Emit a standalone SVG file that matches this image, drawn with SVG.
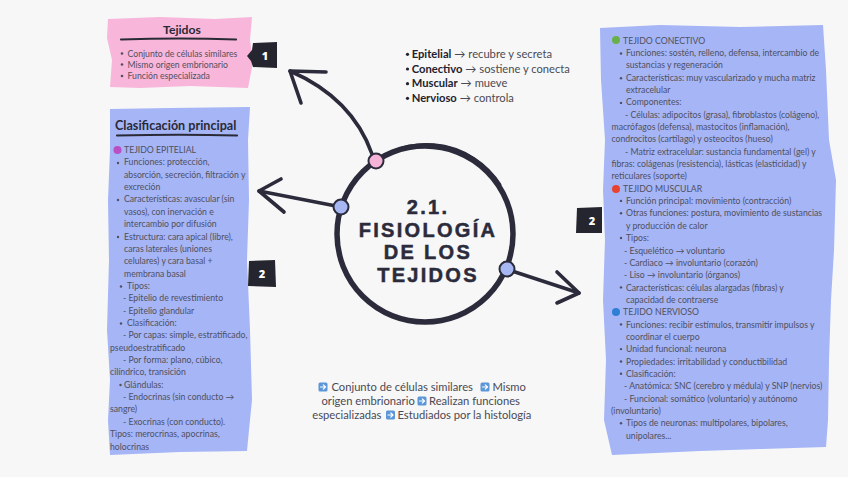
<svg xmlns="http://www.w3.org/2000/svg" width="848" height="477" viewBox="0 0 848 477">
<style>
.t{font-family:Lato,"DejaVu Sans",sans-serif;font-size:8.7px;fill:#50505e}
.h{font-family:Lato,"DejaVu Sans",sans-serif;font-weight:700;fill:#2a2a36}
.big{font-family:"Liberation Sans",Arial,sans-serif;font-weight:700;font-size:20px;fill:#2b2b3b;stroke:#2b2b3b;stroke-width:0.5;letter-spacing:2.3px;text-anchor:middle}
.lst{font-family:Lato,"DejaVu Sans",sans-serif;font-size:11.2px;fill:#4a4a55}
.lst tspan.b{font-weight:700;fill:#222230}
.sum{font-family:Lato,"DejaVu Sans",sans-serif;font-size:11.2px;fill:#4a4a55}
.bd{fill:#25252f}
.bn{font-family:"Open Sans","DejaVu Sans",sans-serif;font-weight:800;font-size:11px;fill:#fff;text-anchor:middle}
.con{fill:none;stroke:#2b2b3b;stroke-width:3.6;stroke-linecap:round;stroke-linejoin:round}
.dot{stroke:#2b2b3b;stroke-width:2}
.ic{fill:#5b97d8}
.ia{fill:none;stroke:#fff;stroke-width:1.2;stroke-linecap:round;stroke-linejoin:round}
</style>
<rect width="848" height="477" fill="#f7f7f7"/>

<g id="connectors">
<path class="con" d="M372 154 C360 120 336 91 290 71"/>
<path class="con" d="M326 72 L290 71 L301 103"/>
<path class="con" d="M336 206 L259 191"/>
<path class="con" d="M281 179 L259 191 L284 212"/>
<path class="con" d="M512 271 L579 293"/>
<path class="con" d="M557 272 L579 293 L557 303"/>
</g>

<g id="node-center">
<circle cx="425" cy="234" r="88" fill="none" stroke="#2b2b3b" stroke-width="5.5"/>
<path d="M360 176 A88 88 0 0 1 500 188" fill="none" stroke="#2b2b3b" stroke-width="1.5" transform="translate(1 -3)"/>
<text class="big" x="428" y="214">2.1.</text>
<text class="big" x="428" y="236.5">FISIOLOGÍA</text>
<text class="big" x="428" y="259">DE LOS</text>
<text class="big" x="428" y="281.5">TEJIDOS</text>
<circle class="dot" cx="376" cy="161" r="7.5" fill="#f6b3d8"/>
<circle class="dot" cx="341" cy="207" r="7.5" fill="#a7b7f4"/>
<circle class="dot" cx="507" cy="269" r="7.5" fill="#a7b7f4"/>
</g>

<g id="node-tejidos">
<path d="M108 19 L160 17 L215 19 L252 17 L250 40 L253 62 L248 88 L190 86 L140 88 L110 87 L112 60 L107 38 Z" fill="#f8b6da"/>
<text class="h" x="182" y="34" font-size="12.2" text-anchor="middle">Tejidos</text>
<path d="M121 39.5 Q180 37.5 236 39.5" fill="none" stroke="#2a2a36" stroke-width="2.2" stroke-linecap="round"/>
<circle cx="122" cy="53.5" r="1.3" fill="#50505e"/>
<circle cx="122" cy="64.5" r="1.3" fill="#50505e"/>
<circle cx="122" cy="76" r="1.3" fill="#50505e"/>
<text class="t" x="127.5" y="56.5">Conjunto de células similares</text>
<text class="t" x="127.5" y="67.5">Mismo origen embrionario</text>
<text class="t" x="127.5" y="79">Función especializada</text>
</g>

<g id="badge-1">
<path class="bd" d="M253 43 L277 42 L277 68 L253 67 L251 61 L247 56 L252 50 Z"/>
<text class="bn" x="265" y="60">1</text>
</g>

<g id="node-list">
<circle cx="407.5" cy="54.3" r="1.6" fill="#222230"/>
<circle cx="407.5" cy="69" r="1.6" fill="#222230"/>
<circle cx="407.5" cy="83.7" r="1.6" fill="#222230"/>
<circle cx="407.5" cy="98.3" r="1.6" fill="#222230"/>
<text class="lst" x="411.7" y="58"><tspan class="b">Epitelial</tspan> → recubre y secreta</text>
<text class="lst" x="411.7" y="72.7"><tspan class="b">Conectivo</tspan> → sostiene y conecta</text>
<text class="lst" x="411.7" y="87.4"><tspan class="b">Muscular</tspan> → mueve</text>
<text class="lst" x="411.7" y="102"><tspan class="b">Nervioso</tspan> → controla</text>
</g>

<g id="node-clasificacion">
<path d="M110 109 L170 108 L250 107 L248 140 L249 200 L247 260 L250 330 L252 400 L249 430 L247 451 L180 452 L110 455 L108 420 L110 380 L107 330 L109 260 L108 200 L110 150 Z" fill="#a5b5f6"/>
<text class="h" x="115" y="130" font-size="12.6">Clasificación principal</text>
<path d="M117 135.5 Q180 134 237 135.5" fill="none" stroke="#2a2a36" stroke-width="2.2" stroke-linecap="round"/>
<circle cx="117.5" cy="150" r="4" fill="#b94fc2"/>
<g fill="#50505e">
<circle cx="118" cy="163" r="1.2"/>
<circle cx="118" cy="200" r="1.2"/>
<circle cx="118" cy="237" r="1.2"/>
<circle cx="121" cy="286.5" r="1.2"/>
<circle cx="121" cy="323.5" r="1.2"/>
<circle cx="120.5" cy="385" r="1.2"/>
</g>
<text class="t" x="124" y="153">TEJIDO EPITELIAL</text>
<text class="t" x="124" y="165.4">Funciones: protección,</text>
<text class="t" x="124" y="177.7">absorción, secreción, filtración y</text>
<text class="t" x="124" y="190">excreción</text>
<text class="t" x="124" y="202.4">Características: avascular (sin</text>
<text class="t" x="124" y="214.8">vasos), con inervación e</text>
<text class="t" x="124" y="227.1">intercambio por difusión</text>
<text class="t" x="124" y="239.5">Estructura: cara apical (libre),</text>
<text class="t" x="124" y="251.8">caras laterales (uniones</text>
<text class="t" x="124" y="264.2">celulares) y cara basal +</text>
<text class="t" x="124" y="276.5">membrana basal</text>
<text class="t" x="127" y="288.9">Tipos:</text>
<text class="t" x="123" y="301.2">- Epitelio de revestimiento</text>
<text class="t" x="123" y="313.6">- Epitelio glandular</text>
<text class="t" x="127" y="326">Clasificación:</text>
<text class="t" x="123" y="338.3">- Por capas: simple, estratificado,</text>
<text class="t" x="110" y="350.7">pseudoestratificado</text>
<text class="t" x="123" y="363">- Por forma: plano, cúbico,</text>
<text class="t" x="110" y="375.4">cilíndrico, transición</text>
<text class="t" x="124" y="387.7">Glándulas:</text>
<text class="t" x="123" y="400.1">- Endocrinas (sin conducto →</text>
<text class="t" x="110" y="412.4">sangre)</text>
<text class="t" x="123" y="424.8">- Exocrinas (con conducto).</text>
<text class="t" x="110" y="437.1">Tipos: merocrinas, apocrinas,</text>
<text class="t" x="110" y="449.5">holocrinas</text>
</g>

<g id="badge-2-left">
<path class="bd" d="M249 261 L275 260 L276 287 L248 286 Z"/>
<text class="bn" x="262" y="277.5">2</text>
</g>

<g id="badge-2-right">
<path class="bd" d="M577 208 L602 207 L602 233 L576 233 Z"/>
<text class="bn" x="592" y="225">2</text>
</g>

<g id="node-tipos">
<path d="M600 28 L660 25 L740 27 L823 25 L826 70 L829 140 L836 180 L834 250 L831 300 L829 360 L828 420 L826 447 L760 449 L700 451 L612 455 L604 420 L606 360 L603 300 L605 240 L603 190 L605 140 L601 80 Z" fill="#a5b5f6"/>
<circle cx="616" cy="40" r="4" fill="#6ab04a"/>
<circle cx="616" cy="189" r="4" fill="#e8432f"/>
<circle cx="616" cy="312" r="4" fill="#2f7fd6"/>
<g fill="#50505e">
<circle cx="621" cy="53.5" r="1.2"/>
<circle cx="621" cy="78.2" r="1.2"/>
<circle cx="621" cy="102.9" r="1.2"/>
<circle cx="621" cy="200.9" r="1.2"/>
<circle cx="621" cy="213.3" r="1.2"/>
<circle cx="621" cy="238" r="1.2"/>
<circle cx="621" cy="287.4" r="1.2"/>
<circle cx="621" cy="324.4" r="1.2"/>
<circle cx="621" cy="349.1" r="1.2"/>
<circle cx="621" cy="361.5" r="1.2"/>
<circle cx="621" cy="373.8" r="1.2"/>
<circle cx="621" cy="423.2" r="1.2"/>
</g>
<text class="t" x="623" y="43.5">TEJIDO CONECTIVO</text>
<text class="t" x="626" y="55.9">Funciones: sostén, relleno, defensa, intercambio de</text>
<text class="t" x="626" y="68.2">sustancias y regeneración</text>
<text class="t" x="626" y="80.6">Características: muy vascularizado y mucha matriz</text>
<text class="t" x="626" y="92.9">extracelular</text>
<text class="t" x="626" y="105.3">Componentes:</text>
<text class="t" x="625" y="117.6">- Células: adipocitos (grasa), fibroblastos (colágeno),</text>
<text class="t" x="611.5" y="130">macrófagos (defensa), mastocitos (inflamación),</text>
<text class="t" x="611.5" y="142.3">condrocitos (cartílago) y osteocitos (hueso)</text>
<text class="t" x="625" y="154.7">- Matriz extracelular: sustancia fundamental (gel) y</text>
<text class="t" x="611.5" y="167">fibras: colágenas (resistencia), lásticas (elasticidad) y</text>
<text class="t" x="611.5" y="179.4">reticulares (soporte)</text>
<text class="t" x="623" y="191.7">TEJIDO MUSCULAR</text>
<text class="t" x="626" y="204.1">Función principal: movimiento (contracción)</text>
<text class="t" x="626" y="216.4">Otras funciones: postura, movimiento de sustancias</text>
<text class="t" x="626" y="228.8">y producción de calor</text>
<text class="t" x="626" y="241.1">Tipos:</text>
<text class="t" x="624" y="253.5">- Esquelético → voluntario</text>
<text class="t" x="624" y="265.8">- Cardiaco → involuntario (corazón)</text>
<text class="t" x="624" y="278.2">- Liso → involuntario (órganos)</text>
<text class="t" x="626" y="290.5">Características: células alargadas (fibras) y</text>
<text class="t" x="626" y="302.9">capacidad de contraerse</text>
<text class="t" x="623" y="315.2">TEJIDO NERVIOSO</text>
<text class="t" x="626" y="327.6">Funciones: recibir estímulos, transmitir impulsos y</text>
<text class="t" x="626" y="339.9">coordinar el cuerpo</text>
<text class="t" x="626" y="352.3">Unidad funcional: neurona</text>
<text class="t" x="626" y="364.6">Propiedades: irritabilidad y conductibilidad</text>
<text class="t" x="626" y="377">Clasificación:</text>
<text class="t" x="624" y="389.3">- Anatómica: SNC (cerebro y médula) y SNP (nervios)</text>
<text class="t" x="624" y="401.7">- Funcional: somático (voluntario) y autónomo</text>
<text class="t" x="611" y="414">(involuntario)</text>
<text class="t" x="626" y="426.4">Tipos de neuronas: multipolares, bipolares,</text>
<text class="t" x="626" y="438.7">unipolares...</text>
</g>

<g id="node-summary">
<rect class="ic" x="318.5" y="382.5" width="9" height="9" rx="1.5"/>
<path class="ia" d="M320.5 387 H325.5 M323.3 384.8 L325.5 387 L323.3 389.2"/>
<text class="sum" x="331.5" y="391">Conjunto de células similares</text>
<rect class="ic" x="480.5" y="382.5" width="9" height="9" rx="1.5"/>
<path class="ia" d="M482.5 387 H487.5 M485.3 384.8 L487.5 387 L485.3 389.2"/>
<text class="sum" x="492.5" y="391">Mismo</text>
<text class="sum" x="321.5" y="405">origen embrionario</text>
<rect class="ic" x="417.5" y="396.5" width="9" height="9" rx="1.5"/>
<path class="ia" d="M419.5 401 H424.5 M422.3 398.8 L424.5 401 L422.3 403.2"/>
<text class="sum" x="429" y="405">Realizan funciones</text>
<text class="sum" x="312.3" y="419">especializadas</text>
<rect class="ic" x="386" y="410.5" width="9" height="9" rx="1.5"/>
<path class="ia" d="M388 415 H393 M390.8 412.8 L393 415 L390.8 417.2"/>
<text class="sum" x="397.5" y="419">Estudiados por la histología</text>
</g>
</svg>
